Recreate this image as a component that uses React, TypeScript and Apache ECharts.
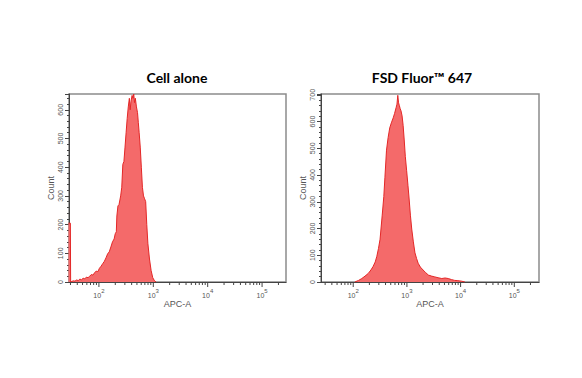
import React, { useEffect, useRef } from "react";
import * as echarts from "echarts";

const titles = ["Cell alone", "FSD Fluor™ 647"];
const xAxisName = "APC-A";
const yAxisName = "Count";

// log10(APC-A) positions and counts
const leftLogApc = [
  1.44, 1.475, 1.48, 1.5, 1.53, 1.56, 1.59, 1.62, 1.65, 1.68, 1.71, 1.74, 1.77, 1.8, 1.83, 1.86, 1.89,
  1.92, 1.95, 1.98, 2.01, 2.04, 2.07, 2.1, 2.13, 2.16, 2.19, 2.22, 2.25, 2.28, 2.3, 2.32, 2.33, 2.35,
  2.37, 2.4, 2.42, 2.44, 2.46, 2.48, 2.5, 2.52, 2.54, 2.56, 2.575, 2.59, 2.61, 2.625, 2.64, 2.655,
  2.67, 2.69, 2.71, 2.725, 2.74, 2.76, 2.78, 2.8, 2.82, 2.84, 2.86, 2.88, 2.9, 2.93, 2.96, 2.99, 3.02,
  3.05,
];
const leftCounts = [
  205, 205, 0, 2, 4, 3, 7, 5, 10, 8, 13, 11, 17, 15, 20, 26, 24,
  32, 38, 36, 48, 55, 64, 72, 84, 98, 105, 122, 140, 150, 168, 175, 230, 265,
  270, 300, 330, 410, 420, 470, 520, 570, 610, 640, 600, 630, 650, 640, 655, 625,
  640, 610, 590, 555, 520, 470, 400, 330, 300, 290, 280, 200, 135, 80, 40, 15, 5,
  0,
];

const rightLogApc = [
  2.03, 2.1, 2.16, 2.22, 2.28, 2.33, 2.37, 2.41, 2.44, 2.47, 2.5, 2.54, 2.57, 2.59, 2.62, 2.65, 2.68,
  2.71, 2.745, 2.77, 2.8, 2.815, 2.83, 2.845, 2.86, 2.875, 2.89, 2.91, 2.93, 2.95, 2.97, 2.995, 3.02,
  3.04, 3.065, 3.09, 3.12, 3.15, 3.18, 3.21, 3.25, 3.3, 3.35, 3.4, 3.46, 3.52, 3.58, 3.65, 3.71, 3.77,
  3.83, 3.89, 3.95, 4.02, 4.08,
];
const rightCounts = [
  0, 6, 13, 22, 32, 45, 58, 75, 96, 125, 160, 250, 320, 390, 493, 540, 576,
  595, 614, 630, 653, 665, 698, 670, 659, 648, 640, 621, 585, 531, 470, 416, 360,
  314, 250, 198, 150, 109, 88, 70, 56, 45, 35, 26, 22, 19, 16, 13, 15, 13,
  9, 6, 5, 3, 0,
];

const xRanges = [
  [1.45, 5.44],
  [1.4, 5.46],
];
const yMax = [655, 703];
const xTickValues = [
  30, 40, 50, 60, 70, 80, 90, 100, 200, 300, 400, 500, 600, 700, 800, 900, 1000, 2000, 3000, 4000,
  5000, 6000, 7000, 8000, 9000, 10000, 20000, 30000, 40000, 50000, 60000, 70000, 80000, 90000,
  100000, 200000,
];
const majorTickValues = [100, 1000, 10000, 100000];

const grids = [
  { left: 69, top: 94, width: 217, height: 188 },
  { left: 321, top: 94, width: 218, height: 188 },
];
const titleCenters = [
  [177, 77],
  [422, 77],
];

const FILL = "#F46A6A";
const LINE = "#E32727";
const AXIS = "#444";
const LABEL = "#555";

export default function App() {
  const ref = useRef<HTMLDivElement>(null);
  useEffect(() => {
    if (!ref.current) return;
    const chart = echarts.init(ref.current, undefined, { renderer: "svg" });
    const series: any[] = [];
    const xAxis: any[] = [];
    const yAxis: any[] = [];
    const sets = [
      { logs: leftLogApc, counts: leftCounts },
      { logs: rightLogApc, counts: rightCounts },
    ];
    sets.forEach((s, i) => {
      xAxis.push({
        type: "log",
        logBase: 10,
        gridIndex: i,
        min: Math.pow(10, xRanges[i][0]),
        max: Math.pow(10, xRanges[i][1]),
        axisLine: { show: true, lineStyle: { color: AXIS, width: 1 } },
        axisTick: { show: false },
        splitLine: { show: false },
        axisLabel: {
          color: LABEL,
          margin: 6,
          fontFamily: "Liberation Sans",
          formatter: (v: number) => {
            const e = Math.log10(v);
            const r = Math.round(e);
            if (Math.abs(e - r) < 1e-6 && r >= 2 && r <= 5) return "{b|10}{s|" + r + "}";
            return "";
          },
          rich: {
            b: { fontSize: 7, lineHeight: 11, verticalAlign: "bottom", color: LABEL, fontFamily: "Liberation Sans" },
            s: { fontSize: 6, lineHeight: 6, verticalAlign: "top", color: LABEL, fontFamily: "Liberation Sans" },
          },
        },
        name: xAxisName,
        nameLocation: "middle",
        nameGap: 16,
        nameTextStyle: { fontSize: 9, color: LABEL, fontFamily: "Liberation Sans" },
      });
      yAxis.push({
        type: "value",
        gridIndex: i,
        min: 0,
        max: yMax[i],
        interval: 100,
        axisLine: { show: true, lineStyle: { color: AXIS, width: 1 } },
        axisTick: { show: true, length: 4, lineStyle: { color: AXIS } },
        minorTick: { show: true, splitNumber: 5, length: 2, lineStyle: { color: AXIS } },
        splitLine: { show: false },
        axisLabel: {
          rotate: 90,
          fontSize: 7,
          color: LABEL,
          margin: 5,
          showMaxLabel: false,
          fontFamily: "Liberation Sans",
        },
        name: yAxisName,
        nameLocation: "middle",
        nameGap: 14,
        nameTextStyle: { fontSize: 9, color: LABEL, fontFamily: "Liberation Sans" },
      });
      series.push({
        type: "line",
        xAxisIndex: i,
        yAxisIndex: i,
        data: s.logs.map((l, k) => [Math.pow(10, l), s.counts[k]]),
        symbol: "none",
        showSymbol: false,
        lineStyle: { color: LINE, width: 1 },
        areaStyle: { color: FILL, opacity: 1 },
        z: 3,
      });
      series.push({
        type: "custom",
        xAxisIndex: i,
        yAxisIndex: i,
        clip: false,
        silent: true,
        dimensions: ["x", "y", "m"],
        encode: { x: 0, y: 1 },
        data: xTickValues
          .filter((v) => Math.log10(v) > xRanges[i][0] && Math.log10(v) < xRanges[i][1])
          .map((v) => [v, 0, majorTickValues.includes(v) ? 1 : 0]),
        renderItem: (_p: any, api: any) => {
          const pt = api.coord([api.value(0), 0]);
          const len = api.value(2) ? 5 : 3;
          return {
            type: "line",
            shape: { x1: pt[0], y1: pt[1], x2: pt[0], y2: pt[1] + len },
            style: { stroke: AXIS, lineWidth: 1 },
          };
        },
        z: 4,
      });
    });

    chart.setOption({
      animation: false,
      backgroundColor: "#fff",
      grid: grids.map((g) => ({
        ...g,
        show: true,
        borderColor: "#8c8c8c",
        borderWidth: 1.5,
        backgroundColor: "transparent",
      })),
      xAxis,
      yAxis,
      series,
      graphic: titles.map((t, i) => ({
        type: "text",
        x: titleCenters[i][0],
        y: titleCenters[i][1],
        style: {
          text: t,
          align: "center",
          verticalAlign: "middle",
          fontSize: 14,
          fontWeight: "bold",
          fontFamily: "Lato",
          fill: "#000",
        },
      })),
    });
    return () => chart.dispose();
  }, []);
  return (
    <div
      ref={ref}
      style={{ position: "fixed", left: 0, top: 0, width: 582, height: 378, background: "#fff" }}
    />
  );
}
